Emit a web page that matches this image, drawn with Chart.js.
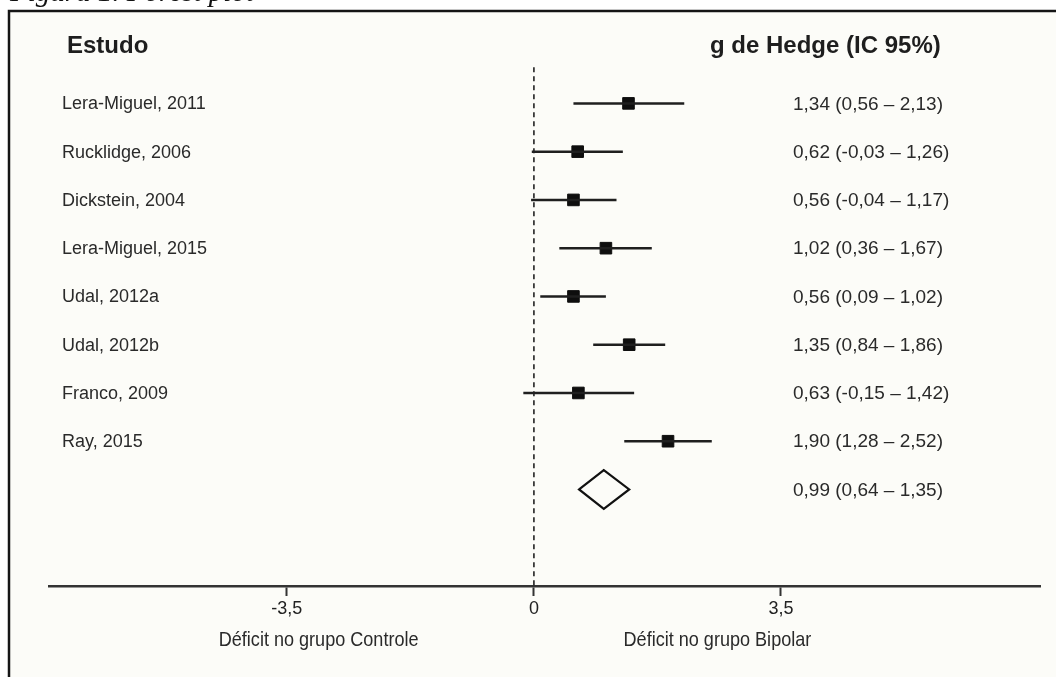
<!DOCTYPE html>
<html lang="pt">
<head>
<meta charset="utf-8">
<title>Forest plot</title>
<script src="https://cdn.jsdelivr.net/npm/chart.js@4.4.1/dist/chart.umd.min.js"></script>
<style>
  html, body { margin: 0; padding: 0; background: #ffffff; }
  #wrap { position: relative; width: 1056px; height: 677px; }
</style>
</head>
<body>
<div id="wrap"><canvas id="forestChart"></canvas></div>
<script>
const studies = [
    'Lera-Miguel, 2011', 'Rucklidge, 2006', 'Dickstein, 2004', 'Lera-Miguel, 2015',
    'Udal, 2012a', 'Udal, 2012b', 'Franco, 2009', 'Ray, 2015'
];
const hedgeG  = [1.34, 0.62, 0.56, 1.02, 0.56, 1.35, 0.63, 1.90];
const ciLower = [0.56, -0.03, -0.04, 0.36, 0.09, 0.84, -0.15, 1.28];
const ciUpper = [2.13, 1.26, 1.17, 1.67, 1.02, 1.86, 1.42, 2.52];
const pooled  = [0.99, 0.64, 1.35]; // estimativa, limite inferior, limite superior
const tickValues = [-3.5, 0, 3.5];
const sideLabels = ['Déficit no grupo Controle', 'Déficit no grupo Bipolar'];

const FONT = "'Liberation Sans', Arial, sans-serif";
const fmt = (v) => v.toFixed(2).replace('.', ',');
const ciText = (g, lo, hi) => fmt(g) + ' (' + fmt(lo) + ' \u2013 ' + fmt(hi) + ')';

const pooledRow = studies.length;

// uma linha por estudo (IC)
const ciSets = studies.map((s, i) => ({
    data: [{ x: ciLower[i], y: i }, { x: ciUpper[i], y: i }],
    showLine: true,
    borderColor: '#1f1f1f',
    borderWidth: 2.5,
    pointRadius: 0
}));

const pointSet = {
    data: hedgeG.map((g, i) => ({ x: g, y: i })),
    showLine: false,
    pointStyle: 'rect',
    pointRadius: 8.2,
    backgroundColor: '#0e0e0e',
    borderColor: '#0e0e0e',
    borderWidth: 1
};

const diamondSet = {
    data: [
        { x: pooled[1], y: pooledRow },
        { x: pooled[0], y: pooledRow - 0.4 },
        { x: pooled[2], y: pooledRow },
        { x: pooled[0], y: pooledRow + 0.4 },
        { x: pooled[1], y: pooledRow },
        { x: pooled[0], y: pooledRow - 0.4 }
    ],
    showLine: true,
    borderColor: '#111111',
    borderWidth: 2.2,
    borderJoinStyle: 'miter',
    pointRadius: 0,
    tension: 0
};

const nullLine = {
    data: [{ x: 0, y: -0.75 }, { x: 0, y: 10 }],
    showLine: true,
    borderColor: '#222222',
    borderWidth: 1.6,
    borderDash: [5, 4],
    pointRadius: 0
};

const paperPlugin = {
    id: 'paper',
    beforeDraw(chart) {
        const c = chart.ctx;
        const w = chart.width, h = chart.height;
        c.save();
        c.fillStyle = '#ffffff';
        c.fillRect(0, 0, w, h);
        c.fillStyle = '#fcfcf8';
        c.fillRect(9, 11, w, h);
        c.strokeStyle = '#151515';
        c.lineWidth = 2.5;
        c.beginPath();
        c.moveTo(9, h + 2);
        c.lineTo(9, 11);
        c.lineTo(w + 2, 11);
        c.stroke();
        // legenda da figura, cortada no topo
        c.fillStyle = '#111';
        c.font = "italic 29px 'Liberation Serif', 'Times New Roman', serif";
        c.textBaseline = 'alphabetic';
        c.fillText('Figura 1. Forest plot', 10, 0.5);
        c.restore();
    }
};

const textPlugin = {
    id: 'forestText',
    afterDraw(chart) {
        const c = chart.ctx;
        const x = chart.scales.x, y = chart.scales.y;
        c.save();
        c.fillStyle = '#1e1e1e';
        c.textBaseline = 'alphabetic';
        c.font = 'bold 24px ' + FONT;
        c.textAlign = 'left';
        c.fillText('Estudo', 67, 53);
        c.fillText('g de Hedge (IC 95%)', 710, 53);

        c.textBaseline = 'middle';
        c.fillStyle = '#2a2a2a';
        c.font = '18px ' + FONT;
        studies.forEach((s, i) => {
            c.fillText(s, 62, y.getPixelForValue(i) + 1);
        });
        c.font = '19px ' + FONT;
        studies.forEach((s, i) => {
            c.fillText(ciText(hedgeG[i], ciLower[i], ciUpper[i]), 793, y.getPixelForValue(i) + 1);
        });
        c.fillText(ciText(pooled[0], pooled[1], pooled[2]), 793, y.getPixelForValue(pooledRow) + 1);

        // rótulos dos lados, letra um pouco estreita como no original
        c.font = '21px ' + FONT;
        c.textAlign = 'center';
        const squeeze = 0.86;
        [[sideLabels[0], -3.05], [sideLabels[1], 2.6]].forEach(([txt, v]) => {
            c.save();
            c.translate(x.getPixelForValue(v), 640);
            c.scale(squeeze, 1);
            c.fillText(txt, 0, 0);
            c.restore();
        });
        c.restore();
    }
};

const ctx = document.getElementById('forestChart').getContext('2d');
const forestChart = new Chart(ctx, {
    type: 'scatter',
    data: { datasets: [nullLine, ...ciSets, pointSet, diamondSet] },
    options: {
        responsive: true,
        maintainAspectRatio: false,
        animation: false,
        layout: { padding: { top: 31, left: 49, right: 16, bottom: 0 } },
        plugins: {
            legend: { display: false },
            tooltip: { enabled: false }
        },
        scales: {
            x: {
                type: 'linear',
                min: -6.87,
                max: 7.17,
                afterBuildTicks: (axis) => {
                    axis.ticks = tickValues.map(v => ({ value: v }));
                },
                afterFit: (axis) => { axis.height = 91; },
                ticks: {
                    callback: (v) => String(v).replace('.', ','),
                    color: '#222222',
                    font: { family: FONT, size: 18 },
                    padding: 2,
                    maxRotation: 0
                },
                grid: {
                    drawOnChartArea: false,
                    drawTicks: true,
                    tickLength: 10,
                    tickColor: '#333333',
                    tickWidth: 2
                },
                border: { display: true, color: '#333333', width: 2.5 }
            },
            y: {
                type: 'linear',
                display: false,
                reverse: true,
                min: -1.5,
                max: 10
            }
        }
    },
    plugins: [paperPlugin, textPlugin]
});
</script>
</body>
</html>
